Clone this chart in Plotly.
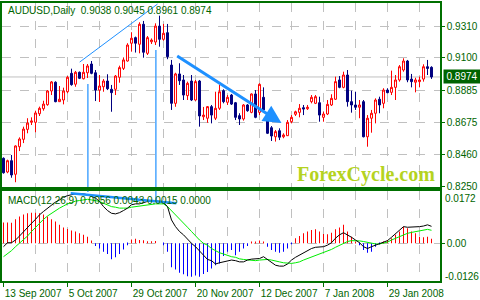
import plotly.graph_objects as go

# ---------------- data ----------------
bar_index = list(range(108))

open_ = [0.8434,0.8343,0.8418,0.8328,0.8511,0.8560,0.8626,0.8673,0.8673,0.8730,
 0.8763,0.8790,0.8881,0.8939,0.8810,0.8821,0.8876,0.8998,0.8926,0.9005,
 0.8962,0.9002,0.9060,0.9002,0.8887,0.8909,0.8947,0.8892,0.8892,0.8972,
 0.9031,0.9080,0.9198,0.9235,0.9191,0.9324,0.9131,0.9208,0.9206,0.9312,
 0.9224,0.9268,0.9053,0.8799,0.8994,0.8954,0.8850,0.8947,0.8821,0.8947,
 0.8710,0.8700,0.8777,0.8700,0.8766,0.8883,0.8806,0.8854,0.8803,0.8717,
 0.8695,0.8788,0.8739,0.8861,0.8739,0.8839,0.8721,0.8637,0.8577,0.8617,
 0.8577,0.8584,0.8677,0.8726,0.8739,0.8770,0.8763,0.8810,0.8799,0.8803,
 0.8706,0.8728,0.8788,0.8826,0.8954,0.8905,0.8987,0.8810,0.8788,0.8773,
 0.8810,0.8577,0.8700,0.8733,0.8826,0.8799,0.8887,0.8872,0.8905,0.8954,
 0.9020,0.9080,0.8960,0.8939,0.8943,0.8960,0.9042,0.9038]

high = [0.8440,0.8425,0.8456,0.8520,0.8573,0.8644,0.8700,0.8706,0.8750,0.8777,
 0.8816,0.8887,0.8947,0.8945,0.8914,0.8903,0.8980,0.9029,0.9014,0.9010,
 0.9060,0.9060,0.9080,0.9020,0.8987,0.8960,0.8992,0.8921,0.8987,0.9049,
 0.9104,0.9198,0.9271,0.9242,0.9337,0.9346,0.9246,0.9230,0.9330,0.9381,
 0.9326,0.9326,0.9087,0.9002,0.9065,0.8987,0.8943,0.8987,0.8954,0.8954,
 0.8775,0.8781,0.8788,0.8876,0.8921,0.8892,0.8854,0.8861,0.8808,0.8733,
 0.8794,0.8794,0.8865,0.8887,0.8932,0.8905,0.8733,0.8648,0.8622,0.8633,
 0.8600,0.8688,0.8721,0.8750,0.8794,0.8788,0.8788,0.8854,0.8854,0.8843,
 0.8743,0.8821,0.8859,0.8976,0.8980,0.9009,0.9020,0.8883,0.8876,0.8821,
 0.8821,0.8721,0.8755,0.8832,0.8843,0.8899,0.8899,0.9016,0.8987,0.9053,
 0.9098,0.9087,0.8994,0.8969,0.8976,0.9058,0.9087,0.9045]

low = [0.8332,0.8335,0.8305,0.8275,0.8482,0.8535,0.8600,0.8655,0.8607,0.8715,
 0.8750,0.8783,0.8854,0.8806,0.8808,0.8792,0.8866,0.8916,0.8909,0.8960,
 0.8958,0.8967,0.8992,0.8814,0.8808,0.8876,0.8887,0.8743,0.8854,0.8936,
 0.9020,0.9076,0.9142,0.9136,0.9131,0.9102,0.9120,0.9193,0.9186,0.9175,
 0.9215,0.9092,0.8755,0.8776,0.8921,0.8821,0.8821,0.8814,0.8816,0.8644,
 0.8688,0.8670,0.8666,0.8688,0.8755,0.8799,0.8788,0.8788,0.8688,0.8655,
 0.8684,0.8743,0.8733,0.8700,0.8721,0.8743,0.8595,0.8549,0.8545,0.8555,
 0.8567,0.8582,0.8666,0.8715,0.8706,0.8721,0.8755,0.8799,0.8794,0.8677,
 0.8677,0.8721,0.8781,0.8821,0.8899,0.8899,0.8777,0.8737,0.8755,0.8700,
 0.8573,0.8511,0.8604,0.8666,0.8733,0.8766,0.8866,0.8854,0.8821,0.8943,
 0.9009,0.8939,0.8905,0.8872,0.8905,0.8943,0.8987,0.8961]

close = [0.8338,0.8418,0.8323,0.8516,0.8562,0.8628,0.8668,0.8682,0.8735,0.8766,
 0.8794,0.8881,0.8941,0.8810,0.8826,0.8881,0.8972,0.8923,0.9005,0.8965,
 0.9005,0.9047,0.8998,0.8887,0.8914,0.8947,0.8896,0.8870,0.8980,0.9036,
 0.9087,0.9186,0.9231,0.9198,0.9324,0.9138,0.9235,0.9219,0.9312,0.9224,
 0.9264,0.9109,0.8799,0.8994,0.8949,0.8854,0.8932,0.8821,0.8943,0.8715,
 0.8721,0.8777,0.8721,0.8766,0.8876,0.8810,0.8839,0.8794,0.8706,0.8695,
 0.8788,0.8750,0.8861,0.8706,0.8925,0.8755,0.8600,0.8582,0.8611,0.8574,
 0.8589,0.8673,0.8706,0.8743,0.8766,0.8761,0.8773,0.8839,0.8843,0.8721,
 0.8728,0.8792,0.8832,0.8943,0.8905,0.8987,0.8810,0.8788,0.8773,0.8788,
 0.8577,0.8700,0.8733,0.8821,0.8788,0.8887,0.8870,0.8905,0.8954,0.9042,
 0.9080,0.8954,0.8943,0.8954,0.8954,0.9042,0.9031,0.8974]

macd_hist = [0.0069,0.0069,0.0068,0.0079,0.0088,0.0095,0.0099,0.0101,0.0101,0.0099,
 0.0095,0.0088,0.0079,0.0072,0.0061,0.0052,0.0047,0.0042,0.0039,0.0033,
 0.0028,0.0022,0.0009,-0.0009,-0.0017,-0.0028,-0.0035,-0.0052,-0.0046,-0.0035,
 -0.0020,-0.0006,0.0013,0.0015,0.0011,0.0010,0.0007,0.0007,0.0008,0.0000,
 -0.0006,-0.0028,-0.0079,-0.0086,-0.0097,-0.0102,-0.0108,-0.0110,-0.0106,-0.0110,
 -0.0101,-0.0094,-0.0083,-0.0072,-0.0066,-0.0042,-0.0028,-0.0022,-0.0039,-0.0028,
 -0.0017,-0.0009,0.0006,0.0004,0.0009,0.0006,-0.0011,-0.0022,-0.0028,-0.0031,
 -0.0028,-0.0017,-0.0003,0.0017,0.0024,0.0033,0.0039,0.0044,0.0046,0.0039,
 0.0031,0.0030,0.0035,0.0046,0.0052,0.0061,0.0039,0.0022,0.0006,-0.0006,
 -0.0022,-0.0031,-0.0028,-0.0011,-0.0002,0.0006,0.0011,0.0017,0.0028,0.0039,
 0.0055,0.0050,0.0039,0.0033,0.0022,0.0020,0.0022,0.0015]

macd_main = [-0.0011,0.0002,0.0002,0.0011,0.0024,0.0039,0.0053,0.0066,0.0079,0.0094,
 0.0105,0.0116,0.0127,0.0136,0.0143,0.0152,0.0157,0.0161,0.0163,0.0163,
 0.0163,0.0160,0.0154,0.0149,0.0138,0.0121,0.0108,0.0099,0.0097,0.0101,
 0.0108,0.0116,0.0127,0.0130,0.0130,0.0134,0.0138,0.0138,0.0140,0.0138,
 0.0134,0.0121,0.0077,0.0055,0.0039,0.0028,0.0013,0.0000,-0.0011,-0.0024,
 -0.0039,-0.0053,-0.0057,-0.0068,-0.0064,-0.0061,-0.0057,-0.0055,-0.0057,-0.0061,
 -0.0061,-0.0055,-0.0052,-0.0052,-0.0050,-0.0044,-0.0053,-0.0064,-0.0072,-0.0075,
 -0.0075,-0.0068,-0.0055,-0.0046,-0.0039,-0.0031,-0.0024,-0.0017,-0.0013,-0.0011,
 -0.0011,-0.0006,0.0002,0.0017,0.0028,0.0035,0.0028,0.0020,0.0011,0.0002,
 -0.0011,-0.0017,-0.0011,-0.0006,-0.0002,0.0002,0.0009,0.0020,0.0031,0.0044,
 0.0055,0.0053,0.0053,0.0053,0.0055,0.0057,0.0061,0.0056]

macd_signal = [-0.0044,-0.0035,-0.0024,-0.0011,0.0000,0.0011,0.0024,0.0039,0.0053,0.0066,
 0.0079,0.0090,0.0099,0.0108,0.0116,0.0123,0.0130,0.0134,0.0139,0.0141,
 0.0143,0.0145,0.0143,0.0141,0.0138,0.0132,0.0127,0.0121,0.0119,0.0116,
 0.0116,0.0116,0.0119,0.0121,0.0123,0.0125,0.0127,0.0128,0.0130,0.0130,
 0.0130,0.0121,0.0108,0.0094,0.0079,0.0066,0.0053,0.0039,0.0024,0.0011,
 0.0000,-0.0006,-0.0017,-0.0024,-0.0031,-0.0035,-0.0040,-0.0044,-0.0046,-0.0051,
 -0.0053,-0.0055,-0.0057,-0.0057,-0.0055,-0.0053,-0.0053,-0.0055,-0.0057,-0.0061,
 -0.0064,-0.0066,-0.0066,-0.0064,-0.0061,-0.0055,-0.0050,-0.0044,-0.0039,-0.0035,
 -0.0031,-0.0025,-0.0020,-0.0013,-0.0007,0.0000,0.0006,0.0009,0.0009,0.0008,
 0.0006,0.0003,0.0000,-0.0002,-0.0002,0.0000,0.0004,0.0011,0.0017,0.0022,
 0.0028,0.0033,0.0036,0.0039,0.0042,0.0044,0.0046,0.0043]

date_tick_pos = [0, 16, 32, 48, 64, 80, 96]
date_tick_text = ["13 Sep 2007", "5 Oct 2007", "29 Oct 2007", "20 Nov 2007",
                  "12 Dec 2007", "7 Jan 2008", "29 Jan 2008"]
grid_pos = list(range(8, 108, 8))
price_ticks = [0.8250, 0.8460, 0.8675, 0.8885, 0.9100, 0.9310]
last_price = 0.8974
title_text = "AUDUSD,Daily  0.9038 0.9045 0.8961 0.8974"
macd_text = "MACD(12,26,9) 0.0056 0.0043 0.0015 0.0000"
macd_max_label, macd_min_label = "0.0172", "-0.0126"

# drawn objects (bar index, value)
trend_up = [(19.05, 0.9073), (38.5, 0.9458)]
arrow_down = [(43.05, 0.9120), (69.5, 0.8668)]
vline1 = (21.1, 0.8927, 0.0169)
vline2 = (38.1, 0.9153, 0.0137)
macd_div = [(16.8, 0.0165), (43.2, 0.0132)]

# ---------------- style ----------------
GREEN = "#006400"
FRAME = "#007000"
GRID = "#c0c0c0"
BLUE_LN = "#1e90ff"
FONT = "Liberation Sans, Arial, sans-serif"
W, H = 480, 300
FS = 10

fig = go.Figure()

fig.add_trace(go.Candlestick(
    x=bar_index, open=open_, high=high, low=low, close=close,
    increasing=dict(line=dict(color="#ff0000", width=1), fillcolor="#ffffff"),
    decreasing=dict(line=dict(color="#000080", width=1), fillcolor="#000080"),
    whiskerwidth=0, showlegend=False, hoverinfo="skip",
    xaxis="x", yaxis="y"))

fig.add_trace(go.Bar(
    x=bar_index, y=macd_hist, width=0.25,
    marker=dict(color=["#ff0000" if v > 0 else "#0000ff" for v in macd_hist],
                line=dict(width=0)),
    showlegend=False, hoverinfo="skip", xaxis="x2", yaxis="y2"))

fig.add_trace(go.Scatter(x=bar_index, y=macd_signal, mode="lines",
                         line=dict(color="#00ee00", width=1),
                         showlegend=False, hoverinfo="skip", xaxis="x2", yaxis="y2"))
fig.add_trace(go.Scatter(x=bar_index, y=macd_main, mode="lines",
                         line=dict(color="#000000", width=1),
                         showlegend=False, hoverinfo="skip", xaxis="x2", yaxis="y2"))

x_left, x_right = 2 / W, 440 / W
xr = [-0.375, 109.125]

fig.update_layout(
    width=W, height=H, margin=dict(l=0, r=0, t=0, b=0, autoexpand=False),
    paper_bgcolor="white", plot_bgcolor="white",
    font=dict(family=FONT, size=FS, color=GREEN),
    xaxis=dict(domain=[x_left, x_right], range=xr, anchor="y", automargin=False,
               tickmode="array", tickvals=grid_pos, showticklabels=False, ticks="",
               showgrid=True, gridcolor=GRID, griddash="dash", gridwidth=1,
               showline=True, mirror=True, linecolor=FRAME, linewidth=1.5,
               zeroline=False, rangeslider=dict(visible=False), fixedrange=True),
    yaxis=dict(domain=[1 - 187 / H, 1 - 2.5 / H], range=[0.82434, 0.94684],
               side="right", anchor="x", automargin=False,
               tickmode="array", tickvals=price_ticks,
               ticktext=[f"{v:.4f}" for v in price_ticks],
               ticks="outside", ticklen=3, tickcolor=FRAME, tickwidth=1,
               showgrid=True, gridcolor=GRID, griddash="dash", gridwidth=1,
               showline=True, mirror=True, linecolor=FRAME, linewidth=1.5,
               zeroline=False, tickfont=dict(size=FS, color=GREEN)),
    xaxis2=dict(domain=[x_left, x_right], range=xr, anchor="y2", matches="x",
                automargin=False, tickangle=0,
                tickmode="array", tickvals=date_tick_pos, ticktext=date_tick_text,
                ticks="outside", ticklen=4, tickcolor=FRAME,
                ticklabelposition="outside right", ticklabelstandoff=2,
                showgrid=False,
                minor=dict(tickmode="array", tickvals=grid_pos, showgrid=True,
                           gridcolor=GRID, griddash="dash", gridwidth=1, ticks=""),
                showline=True, mirror=True, linecolor=FRAME, linewidth=1.5,
                zeroline=False, tickfont=dict(size=FS, color=GREEN)),
    yaxis2=dict(domain=[1 - 281 / H, 1 - 190.5 / H], range=[-0.0124, 0.0174],
                side="right", anchor="x2", automargin=False,
                tickmode="array", tickvals=[0], ticktext=["0.00"],
                ticks="outside", ticklen=3, tickcolor=FRAME,
                showgrid=True, gridcolor=GRID, griddash="dash", gridwidth=1,
                showline=True, mirror=True, linecolor=FRAME, linewidth=1.5,
                zeroline=False, tickfont=dict(size=FS, color=GREEN)),
)

# current price line
fig.add_shape(type="line", xref="x domain", yref="y", x0=0, x1=1,
              y0=last_price, y1=last_price, line=dict(color=GRID, width=1), layer="below")

# drawn trend lines
fig.add_shape(type="line", xref="x", yref="y",
              x0=trend_up[0][0], y0=trend_up[0][1], x1=trend_up[1][0], y1=trend_up[1][1],
              line=dict(color=BLUE_LN, width=1))
fig.add_annotation(xref="x", yref="y", axref="x", ayref="y",
                   x=arrow_down[1][0], y=arrow_down[1][1],
                   ax=arrow_down[0][0], ay=arrow_down[0][1],
                   text="", showarrow=True, arrowhead=2, arrowsize=1.2,
                   arrowwidth=3, arrowcolor=BLUE_LN)
for vx, vtop, vmacd in (vline1, vline2):
    fig.add_shape(type="line", xref="x", yref="y", x0=vx, x1=vx,
                  y0=vtop, y1=0.82434, line=dict(color=BLUE_LN, width=1.2))
    fig.add_shape(type="line", xref="x2", yref="y2", x0=vx, x1=vx,
                  y0=0.0174, y1=vmacd, line=dict(color=BLUE_LN, width=1.2))
fig.add_shape(type="line", xref="x2", yref="y2",
              x0=macd_div[0][0], y0=macd_div[0][1], x1=macd_div[1][0], y1=macd_div[1][1],
              line=dict(color=BLUE_LN, width=2.5))

# texts
fig.add_annotation(xref="paper", yref="paper", x=6 / W, y=1 - 11 / H,
                   xanchor="left", yanchor="middle", showarrow=False,
                   text=title_text, font=dict(size=FS, color=GREEN))
fig.add_annotation(xref="paper", yref="paper", x=6 / W, y=1 - 200 / H,
                   xanchor="left", yanchor="middle", showarrow=False,
                   text=macd_text, font=dict(size=FS, color=GREEN))
fig.add_annotation(xref="paper", yref="paper", x=365.5 / W, y=1 - 174 / H,
                   xanchor="center", yanchor="middle", showarrow=False,
                   text="<b>ForexCycle.com</b>",
                   font=dict(family="Liberation Serif, Times New Roman, serif",
                             size=20, color="#b5d31f"))
fig.add_annotation(xref="paper", yref="y", x=442.5 / W, y=last_price,
                   xanchor="left", yanchor="middle", showarrow=False,
                   text=f"{last_price:.4f}", bgcolor=GREEN, borderpad=1,
                   width=34, font=dict(size=FS, color="white"))
fig.add_annotation(xref="paper", yref="y2 domain", x=443 / W, y=1,
                   xanchor="left", yanchor="top", showarrow=False,
                   text=macd_max_label, font=dict(size=FS, color=GREEN))
fig.add_annotation(xref="paper", yref="y2 domain", x=443 / W, y=0.055,
                   xanchor="left", yanchor="middle", showarrow=False,
                   text=macd_min_label, font=dict(size=FS, color=GREEN))

fig.write_html("out.html")
